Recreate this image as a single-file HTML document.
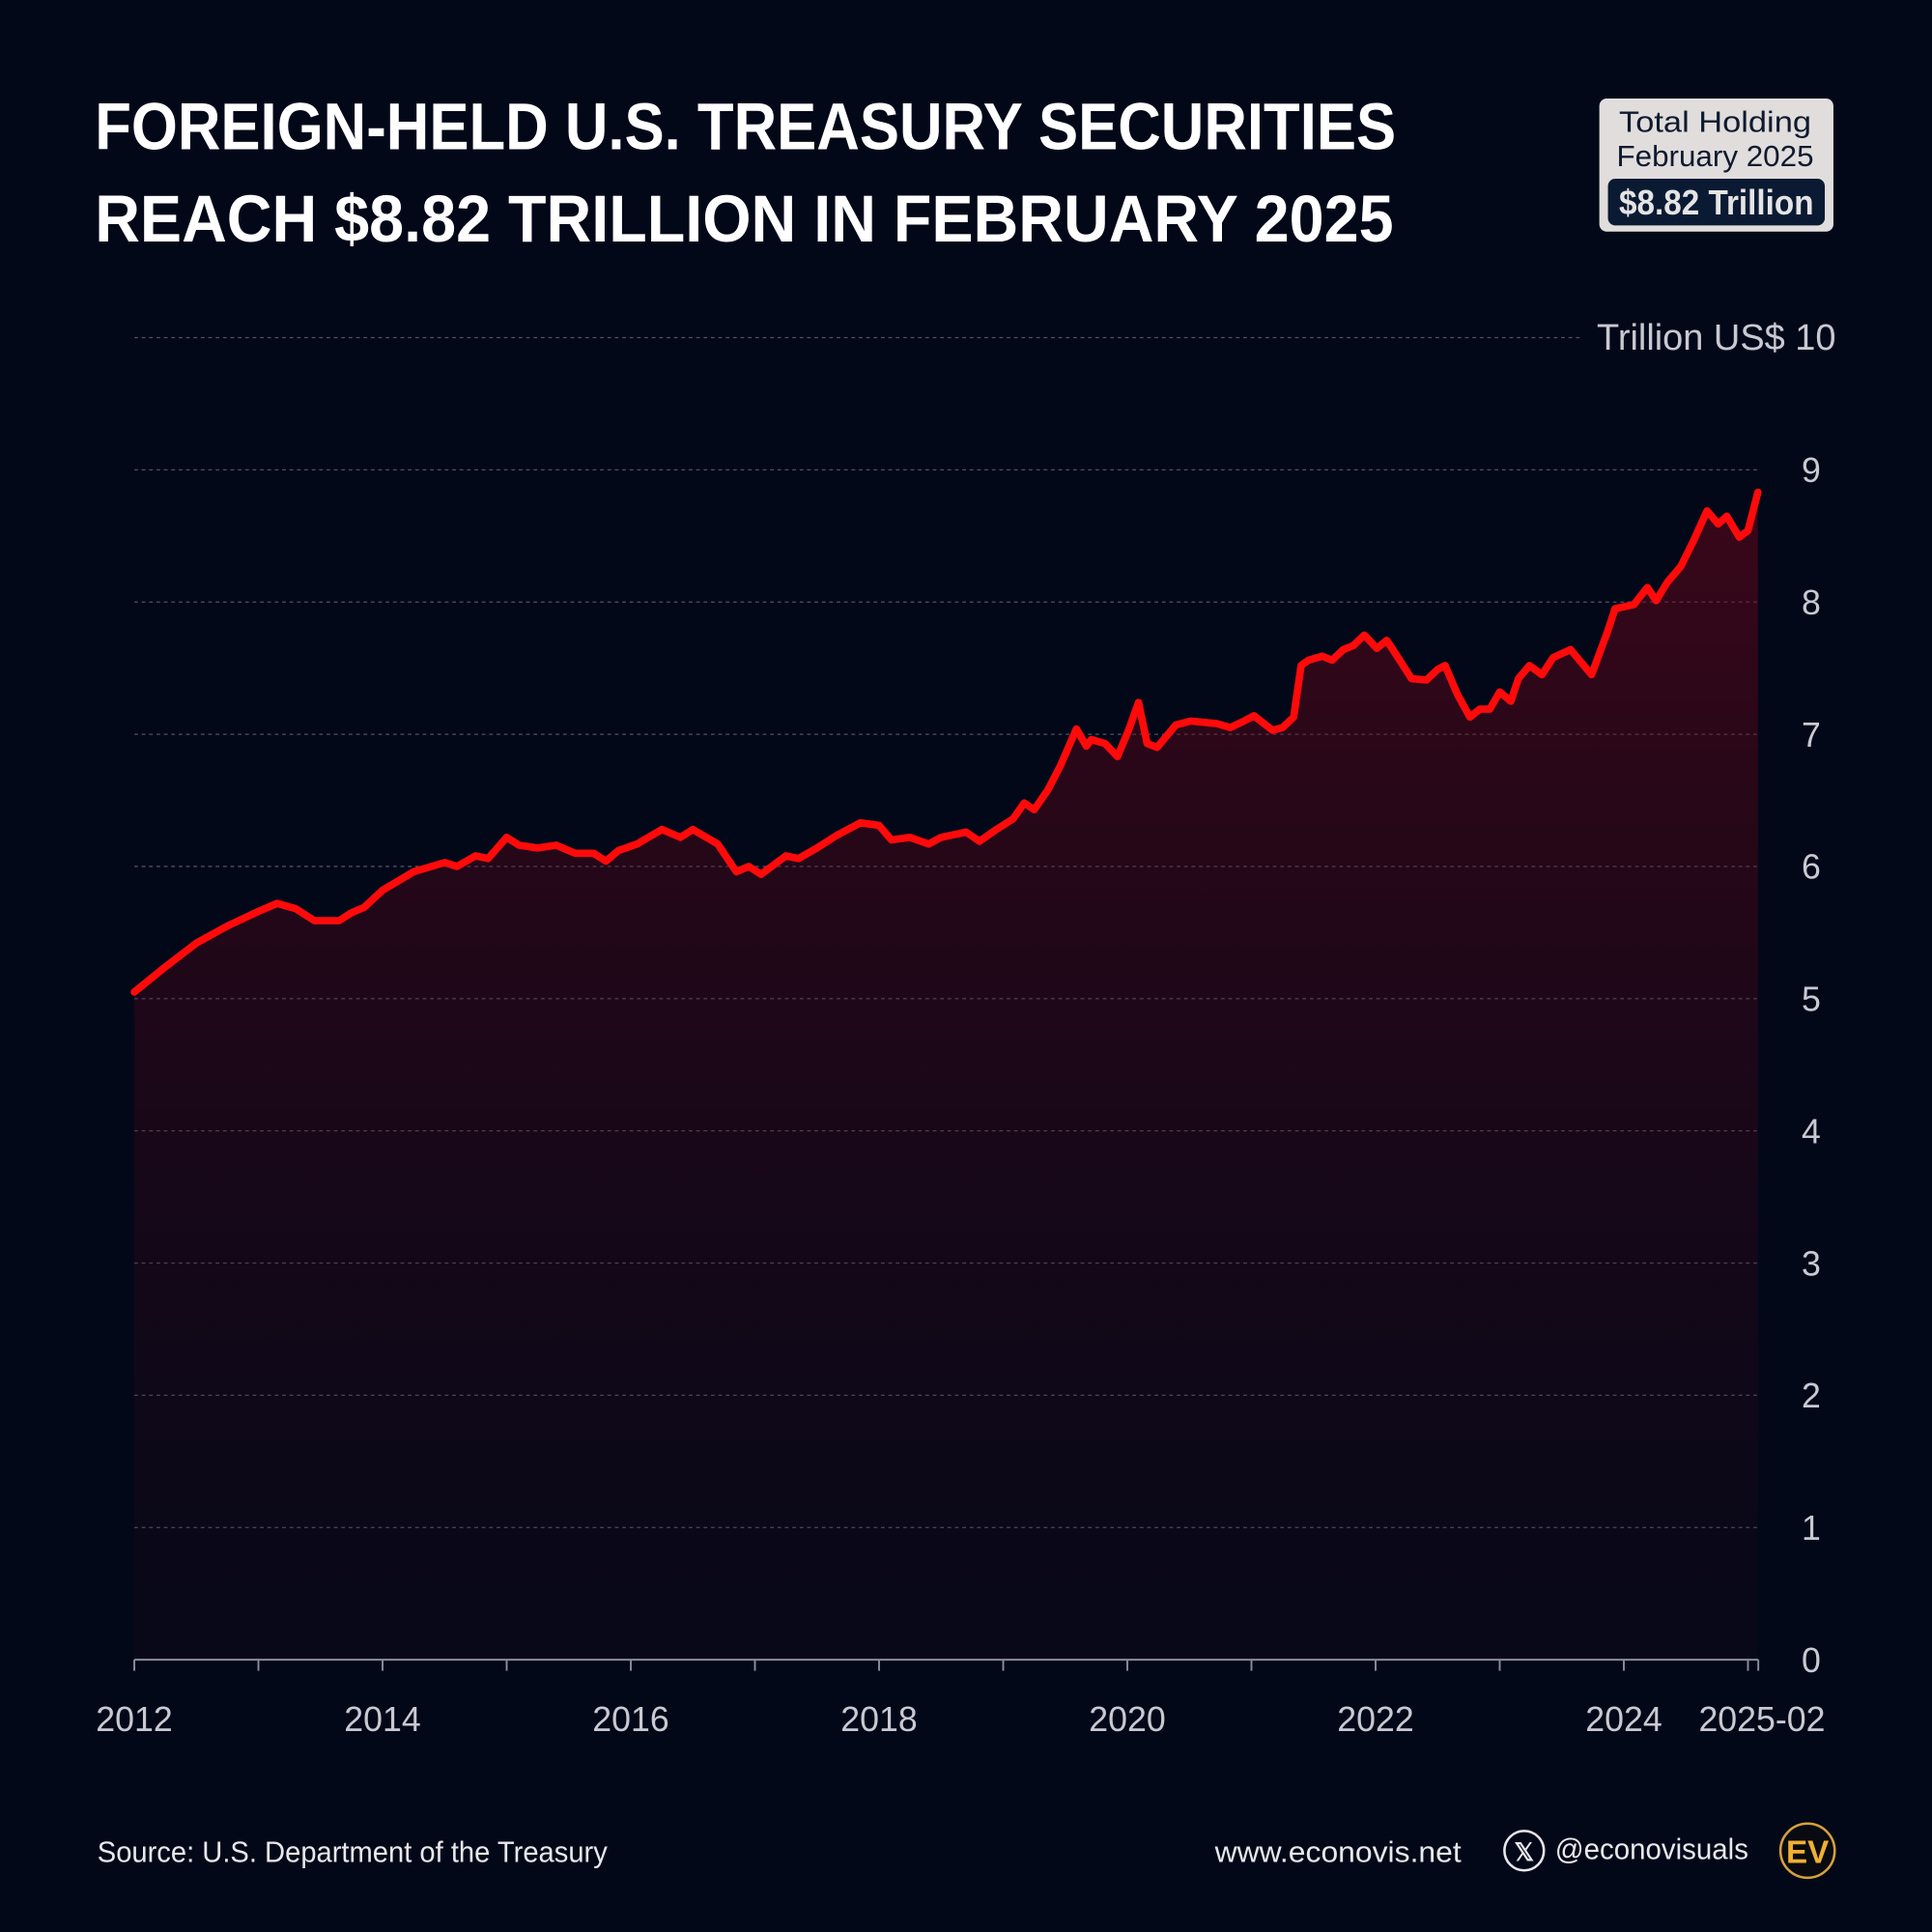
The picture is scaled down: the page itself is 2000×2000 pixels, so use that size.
<!DOCTYPE html>
<html><head><meta charset="utf-8">
<style>
html,body{margin:0;padding:0;background:#030819;}
svg{display:block;}
text{font-family:"Liberation Sans",sans-serif;}
</style></head>
<body>
<svg id="chart" width="2000" height="2000" viewBox="0 0 1568 1568" xmlns="http://www.w3.org/2000/svg">
<defs>
<linearGradient id="fillg" x1="0" y1="0" x2="0" y2="1">
<stop offset="0" stop-color="#70061a" stop-opacity="0.5"/>
<stop offset="1" stop-color="#3a0510" stop-opacity="0.08"/>
</linearGradient>
</defs>
<rect x="0" y="0" width="1568" height="1568" fill="#030819"/>
<g fill="#ffffff" font-weight="bold" font-size="54">
<text x="77" y="121" textLength="1056" lengthAdjust="spacingAndGlyphs">FOREIGN-HELD U.S. TREASURY SECURITIES</text>
<text x="77" y="196" textLength="1054" lengthAdjust="spacingAndGlyphs">REACH $8.82 TRILLION IN FEBRUARY 2025</text>
</g>
<g>
<rect x="1298" y="80" width="190" height="108" rx="6" fill="#e0dddc"/>
<text x="1314" y="107" font-size="24" fill="#0f1a2e" textLength="156" lengthAdjust="spacingAndGlyphs">Total Holding</text>
<text x="1312" y="135" font-size="24" fill="#0f1a2e" textLength="160" lengthAdjust="spacingAndGlyphs">February 2025</text>
<rect x="1305" y="145" width="176" height="38" rx="6" fill="#0b1a33"/>
<text x="1314" y="174" font-size="28" font-weight="bold" fill="#e4e4e4" textLength="158" lengthAdjust="spacingAndGlyphs">$8.82 Trillion</text>
</g>
<g id="grid"></g>
<g id="ylabels"></g>
<path id="area" fill="url(#fillg)"/>
<path id="line" fill="none" stroke="#ff0a0a" stroke-width="6" stroke-linejoin="round" stroke-linecap="round"/>
<g id="xaxis"></g>
<g fill="#e8e8ec" font-size="24">
<text x="79" y="1511" textLength="414" lengthAdjust="spacingAndGlyphs">Source: U.S. Department of the Treasury</text>
<text x="986" y="1511" textLength="200" lengthAdjust="spacingAndGlyphs">www.econovis.net</text>
<circle cx="1237" cy="1502" r="16" fill="none" stroke="#e8e8ec" stroke-width="2"/>
<text x="1237" y="1510" text-anchor="middle" font-size="20" font-weight="bold">𝕏</text>
<text x="1262" y="1509" textLength="157" lengthAdjust="spacingAndGlyphs">@econovisuals</text>
<circle cx="1467" cy="1502" r="22" fill="#0a0a12" stroke="#d4a23a" stroke-width="2"/>
<text x="1467" y="1512" text-anchor="middle" font-size="26" font-weight="bold" fill="#f0b030">EV</text>
</g>
</svg>
<script>
const years = [2012.0,2012.25,2012.5,2012.75,2013.0,2013.15,2013.3,2013.45,2013.65,2013.75,2013.85,2014.0,2014.25,2014.5,2014.6,2014.75,2014.85,2015.0,2015.1,2015.25,2015.4,2015.55,2015.7,2015.8,2015.9,2016.05,2016.25,2016.4,2016.5,2016.7,2016.85,2016.95,2017.05,2017.25,2017.35,2017.5,2017.65,2017.85,2018.0,2018.1,2018.25,2018.4,2018.5,2018.7,2018.81,2018.93,2019.08,2019.17,2019.25,2019.36,2019.46,2019.59,2019.67,2019.71,2019.82,2019.92,2020.01,2020.09,2020.16,2020.24,2020.39,2020.51,2020.72,2020.83,2020.94,2021.02,2021.17,2021.25,2021.34,2021.40,2021.46,2021.57,2021.65,2021.74,2021.82,2021.91,2022.01,2022.09,2022.16,2022.29,2022.41,2022.5,2022.56,2022.66,2022.76,2022.84,2022.92,2023.0,2023.09,2023.15,2023.24,2023.34,2023.43,2023.57,2023.74,2023.87,2023.93,2024.08,2024.19,2024.26,2024.35,2024.46,2024.56,2024.67,2024.76,2024.83,2024.93,2025.0,2025.08];
const values = [5.05,5.24,5.42,5.55,5.66,5.72,5.68,5.59,5.59,5.65,5.69,5.82,5.96,6.03,6.00,6.08,6.06,6.22,6.16,6.14,6.16,6.10,6.10,6.04,6.12,6.17,6.28,6.22,6.28,6.17,5.96,6.00,5.94,6.08,6.06,6.14,6.23,6.33,6.31,6.20,6.22,6.17,6.22,6.26,6.19,6.27,6.36,6.48,6.43,6.58,6.76,7.04,6.91,6.96,6.93,6.83,7.03,7.24,6.93,6.90,7.07,7.10,7.08,7.05,7.10,7.14,7.03,7.05,7.13,7.52,7.56,7.59,7.56,7.64,7.67,7.75,7.65,7.71,7.61,7.42,7.41,7.49,7.52,7.30,7.13,7.19,7.19,7.32,7.25,7.42,7.52,7.45,7.58,7.64,7.45,7.78,7.95,7.98,8.11,8.01,8.15,8.27,8.46,8.69,8.59,8.65,8.49,8.54,8.83];
const yTicks = [0,1,2,3,4,5,6,7,8,9,10];
const xTickYears = [2012,2013,2014,2015,2016,2017,2018,2019,2020,2021,2022,2023,2024,2025];
const xLabels = ["2012","2014","2016","2018","2020","2022","2024"];
const lastLabel = "2025-02";

const X0=109, X1=1427, T0=2012.0, T1=2025.083, Y0=1347, Y10=274;
const xs = t => X0 + (t - T0) / (T1 - T0) * (X1 - X0);
const ys = v => Y0 - v / 10 * (Y0 - Y10);
const NS = "http://www.w3.org/2000/svg";
function mk(tag, attrs, parent){const e=document.createElementNS(NS,tag);for(const k in attrs)e.setAttribute(k,attrs[k]);parent.appendChild(e);return e;}

const grid=document.getElementById('grid'), yl=document.getElementById('ylabels'), xa=document.getElementById('xaxis');
yTicks.forEach(v=>{
  if(v>0){
    const g=mk('line',{x1:X0,x2:v===10?1285:X1,y1:ys(v),y2:ys(v),stroke:'#4c5262','stroke-width':1,'stroke-dasharray':'3 3'},grid);
    
    
  }
  const attrs = v===10 ? {x:1296,y:ys(v)+10,'font-size':30,fill:'#c9c9d2',textLength:194,lengthAdjust:'spacingAndGlyphs'} : {x:1470,y:ys(v)+10,'text-anchor':'middle','font-size':28,fill:'#c9c9d2'};
  const t=mk('text',attrs,yl);
  t.textContent = v===10 ? 'Trillion US$ 10' : String(v);
  
  
});

let d='';
years.forEach((t,i)=>{d+=(i?'L':'M')+xs(t).toFixed(1)+','+ys(values[i]).toFixed(1);});
document.getElementById('line').setAttribute('d',d);
document.getElementById('area').setAttribute('d',d+'L'+xs(years[years.length-1]).toFixed(1)+','+Y0+'L'+xs(years[0]).toFixed(1)+','+Y0+'Z');

const ax=mk('line',{x1:X0,x2:X1,y1:Y0,y2:Y0,stroke:'#8a8e9a','stroke-width':1.5},xa);


xTickYears.concat([T1]).forEach(t=>{
  const tk=mk('line',{x1:xs(t),x2:xs(t),y1:Y0,y2:Y0+9,stroke:'#8a8e9a','stroke-width':1.5},xa);
  
  
});
xLabels.forEach(s=>{
  const t=mk('text',{x:xs(+s),y:1405,'text-anchor':'middle','font-size':28,fill:'#c9c9d2'},xa);
  t.textContent=s;
  
  
});
const lt=mk('text',{x:xs(T1)+3,y:1405,'text-anchor':'middle','font-size':28,fill:'#c9c9d2'},xa);
lt.textContent=lastLabel;


</script>
</body></html>
